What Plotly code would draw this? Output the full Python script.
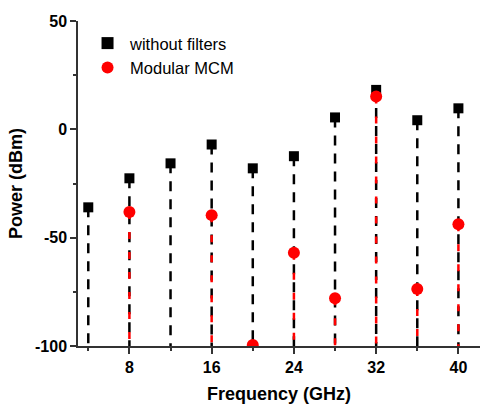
import plotly.graph_objects as go

freq_black = [4, 8, 12, 16, 20, 24, 28, 32, 36, 40]
power_black = [-36, -22.6, -15.7, -7, -18, -12.4, 5.5, 18.2, 4.2, 9.7]
freq_red = [8, 16, 20, 24, 28, 32, 36, 40]
power_red = [-38.2, -39.6, -99.5, -57, -78, 15.2, -73.7, -43.8]
x_ticks = [8, 16, 24, 32, 40]
y_ticks = [-100, -50, 0, 50]
y_ticklabels = ["-100", "-50", "0", "50"]
floor = -100

def stems(xs, ys):
    sx, sy = [], []
    for x, y in zip(xs, ys):
        sx += [x, x, None]
        sy += [y, floor, None]
    return sx, sy

fig = go.Figure()
bx, by = stems(freq_black, power_black)
rx, ry = stems(freq_red, power_red)
fig.add_trace(go.Scatter(x=bx, y=by, mode="lines", showlegend=False, hoverinfo="skip",
                         line=dict(color="black", width=2.5, dash="10px,8px")))
fig.add_trace(go.Scatter(x=rx, y=ry, mode="lines", showlegend=False, hoverinfo="skip",
                         line=dict(color="red", width=2.5, dash="7px,13px")))
fig.add_trace(go.Scatter(x=freq_black, y=power_black, mode="markers", name="without filters",
                         marker=dict(symbol="square", size=10, color="black")))
fig.add_trace(go.Scatter(x=freq_red, y=power_red, mode="markers", name="Modular MCM",
                         marker=dict(symbol="circle", size=12, color="red")))

font_family = "Liberation Sans, Arial, sans-serif"
fig.update_layout(
    width=480, height=408,
    margin=dict(l=78, r=0, t=21, b=62),
    plot_bgcolor="white", paper_bgcolor="white",
    font=dict(family=font_family, color="black"),
    legend=dict(x=0.0175, y=0.985, xanchor="left", yanchor="top",
                font=dict(size=16.5, family=font_family), bgcolor="rgba(0,0,0,0)",
                itemsizing="constant", itemwidth=35, tracegroupgap=0),
    xaxis=dict(range=[3, 42.1], tickvals=x_ticks, ticks="outside", ticklen=6,
               tickwidth=1.5, tickcolor="#333", showline=True, linecolor="#333", linewidth=1.5,
               showgrid=False, zeroline=False,
               minor=dict(tickvals=[4, 12, 20, 28, 36], ticks="outside", ticklen=3, tickwidth=1.5, tickcolor="#333"),
               tickfont=dict(size=16, family=font_family, weight="bold"),
               title=dict(text="Frequency (GHz)", font=dict(size=18, family=font_family, weight="bold"), standoff=12)),
    yaxis=dict(range=[-100, 50], tickvals=y_ticks, ticktext=y_ticklabels, ticks="outside", ticklen=6,
               tickwidth=1.5, tickcolor="#333", showline=True, linecolor="#333", linewidth=1.5,
               showgrid=False, zeroline=False,
               minor=dict(tickvals=[-75, -25, 25], ticks="outside", ticklen=3, tickwidth=1.5, tickcolor="#333"),
               tickfont=dict(size=16, family=font_family, weight="bold"),
               title=dict(text="Power (dBm)", font=dict(size=18, family=font_family, weight="bold"), standoff=8)),
)
fig.write_html("out.html")
